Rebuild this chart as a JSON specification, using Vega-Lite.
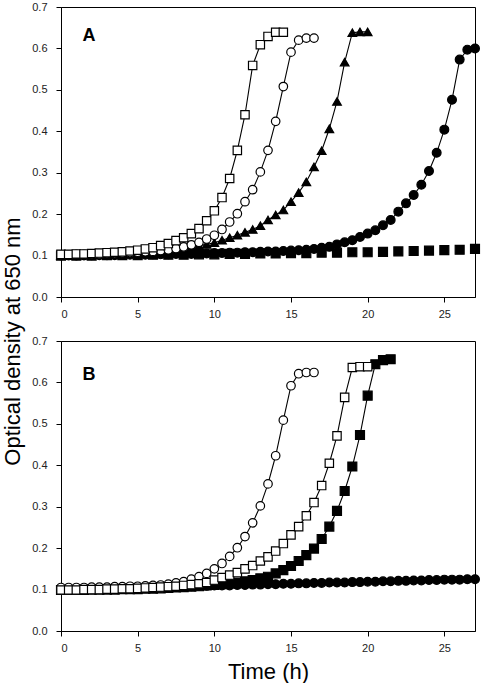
{
  "$schema": "https://vega.github.io/schema/vega-lite/v6.json",
  "padding": {"left": 2, "top": 0, "right": 0, "bottom": 0},
  "bounds": "flush",
  "spacing": 44,
  "title": {"text": "Optical density at 650 nm", "orient": "left", "anchor": "middle", "fontSize": 22, "fontWeight": "normal", "font": "Liberation Sans", "color": "black", "offset": 6},
  "datasets": {
    "growth": [
      {"panel":"A","series":"filled square","time":0,"od":0.100},{"panel":"A","series":"filled square","time":1,"od":0.100},{"panel":"A","series":"filled square","time":2,"od":0.100},{"panel":"A","series":"filled square","time":3,"od":0.101},{"panel":"A","series":"filled square","time":4,"od":0.101},{"panel":"A","series":"filled square","time":5,"od":0.101},{"panel":"A","series":"filled square","time":6,"od":0.102},{"panel":"A","series":"filled square","time":7,"od":0.102},{"panel":"A","series":"filled square","time":8,"od":0.102},{"panel":"A","series":"filled square","time":9,"od":0.103},{"panel":"A","series":"filled square","time":10,"od":0.103},{"panel":"A","series":"filled square","time":11,"od":0.104},{"panel":"A","series":"filled square","time":12,"od":0.104},{"panel":"A","series":"filled square","time":13,"od":0.105},{"panel":"A","series":"filled square","time":14,"od":0.105},{"panel":"A","series":"filled square","time":15,"od":0.106},{"panel":"A","series":"filled square","time":16,"od":0.106},{"panel":"A","series":"filled square","time":17,"od":0.107},{"panel":"A","series":"filled square","time":18,"od":0.107},{"panel":"A","series":"filled square","time":19,"od":0.108},{"panel":"A","series":"filled square","time":20,"od":0.108},{"panel":"A","series":"filled square","time":21,"od":0.109},{"panel":"A","series":"filled square","time":22,"od":0.110},{"panel":"A","series":"filled square","time":23,"od":0.111},{"panel":"A","series":"filled square","time":24,"od":0.112},{"panel":"A","series":"filled square","time":25,"od":0.113},{"panel":"A","series":"filled square","time":26,"od":0.114},{"panel":"A","series":"filled square","time":27,"od":0.116},

      {"panel":"A","series":"filled circle","time":0,"od":0.100},{"panel":"A","series":"filled circle","time":0.5,"od":0.100},{"panel":"A","series":"filled circle","time":1,"od":0.100},{"panel":"A","series":"filled circle","time":1.5,"od":0.100},{"panel":"A","series":"filled circle","time":2,"od":0.101},{"panel":"A","series":"filled circle","time":2.5,"od":0.101},{"panel":"A","series":"filled circle","time":3,"od":0.101},{"panel":"A","series":"filled circle","time":3.5,"od":0.101},{"panel":"A","series":"filled circle","time":4,"od":0.102},{"panel":"A","series":"filled circle","time":4.5,"od":0.102},{"panel":"A","series":"filled circle","time":5,"od":0.102},{"panel":"A","series":"filled circle","time":5.5,"od":0.102},{"panel":"A","series":"filled circle","time":6,"od":0.103},{"panel":"A","series":"filled circle","time":6.5,"od":0.103},{"panel":"A","series":"filled circle","time":7,"od":0.103},{"panel":"A","series":"filled circle","time":7.5,"od":0.104},{"panel":"A","series":"filled circle","time":8,"od":0.104},{"panel":"A","series":"filled circle","time":8.5,"od":0.104},{"panel":"A","series":"filled circle","time":9,"od":0.105},{"panel":"A","series":"filled circle","time":9.5,"od":0.105},{"panel":"A","series":"filled circle","time":10,"od":0.106},{"panel":"A","series":"filled circle","time":10.5,"od":0.106},{"panel":"A","series":"filled circle","time":11,"od":0.107},{"panel":"A","series":"filled circle","time":11.5,"od":0.107},{"panel":"A","series":"filled circle","time":12,"od":0.108},{"panel":"A","series":"filled circle","time":12.5,"od":0.108},{"panel":"A","series":"filled circle","time":13,"od":0.109},{"panel":"A","series":"filled circle","time":13.5,"od":0.110},{"panel":"A","series":"filled circle","time":14,"od":0.110},{"panel":"A","series":"filled circle","time":14.5,"od":0.111},{"panel":"A","series":"filled circle","time":15,"od":0.112},{"panel":"A","series":"filled circle","time":15.5,"od":0.113},{"panel":"A","series":"filled circle","time":16,"od":0.114},{"panel":"A","series":"filled circle","time":16.5,"od":0.116},{"panel":"A","series":"filled circle","time":17,"od":0.119},{"panel":"A","series":"filled circle","time":17.5,"od":0.121},{"panel":"A","series":"filled circle","time":18,"od":0.127},{"panel":"A","series":"filled circle","time":18.5,"od":0.132},{"panel":"A","series":"filled circle","time":19,"od":0.137},{"panel":"A","series":"filled circle","time":19.5,"od":0.145},{"panel":"A","series":"filled circle","time":20,"od":0.153},{"panel":"A","series":"filled circle","time":20.5,"od":0.161},{"panel":"A","series":"filled circle","time":21,"od":0.173},{"panel":"A","series":"filled circle","time":21.5,"od":0.186},{"panel":"A","series":"filled circle","time":22,"od":0.206},{"panel":"A","series":"filled circle","time":22.5,"od":0.226},{"panel":"A","series":"filled circle","time":23,"od":0.246},{"panel":"A","series":"filled circle","time":23.5,"od":0.271},{"panel":"A","series":"filled circle","time":24,"od":0.304},{"panel":"A","series":"filled circle","time":24.5,"od":0.348},{"panel":"A","series":"filled circle","time":25,"od":0.404},{"panel":"A","series":"filled circle","time":25.5,"od":0.476},{"panel":"A","series":"filled circle","time":26,"od":0.573},{"panel":"A","series":"filled circle","time":26.5,"od":0.597},{"panel":"A","series":"filled circle","time":27,"od":0.600},

      {"panel":"A","series":"filled triangle","time":0,"od":0.100},{"panel":"A","series":"filled triangle","time":0.5,"od":0.100},{"panel":"A","series":"filled triangle","time":1,"od":0.101},{"panel":"A","series":"filled triangle","time":1.5,"od":0.101},{"panel":"A","series":"filled triangle","time":2,"od":0.102},{"panel":"A","series":"filled triangle","time":2.5,"od":0.102},{"panel":"A","series":"filled triangle","time":3,"od":0.103},{"panel":"A","series":"filled triangle","time":3.5,"od":0.103},{"panel":"A","series":"filled triangle","time":4,"od":0.104},{"panel":"A","series":"filled triangle","time":4.5,"od":0.105},{"panel":"A","series":"filled triangle","time":5,"od":0.106},{"panel":"A","series":"filled triangle","time":5.5,"od":0.107},{"panel":"A","series":"filled triangle","time":6,"od":0.108},{"panel":"A","series":"filled triangle","time":6.5,"od":0.110},{"panel":"A","series":"filled triangle","time":7,"od":0.112},{"panel":"A","series":"filled triangle","time":7.5,"od":0.114},{"panel":"A","series":"filled triangle","time":8,"od":0.117},{"panel":"A","series":"filled triangle","time":8.5,"od":0.120},{"panel":"A","series":"filled triangle","time":9,"od":0.124},{"panel":"A","series":"filled triangle","time":9.5,"od":0.127},{"panel":"A","series":"filled triangle","time":10,"od":0.131},{"panel":"A","series":"filled triangle","time":10.5,"od":0.137},{"panel":"A","series":"filled triangle","time":11,"od":0.143},{"panel":"A","series":"filled triangle","time":11.5,"od":0.149},{"panel":"A","series":"filled triangle","time":12,"od":0.156},{"panel":"A","series":"filled triangle","time":12.5,"od":0.163},{"panel":"A","series":"filled triangle","time":13,"od":0.172},{"panel":"A","series":"filled triangle","time":13.5,"od":0.186},{"panel":"A","series":"filled triangle","time":14,"od":0.198},{"panel":"A","series":"filled triangle","time":14.5,"od":0.210},{"panel":"A","series":"filled triangle","time":15,"od":0.230},{"panel":"A","series":"filled triangle","time":15.5,"od":0.252},{"panel":"A","series":"filled triangle","time":16,"od":0.278},{"panel":"A","series":"filled triangle","time":16.5,"od":0.314},{"panel":"A","series":"filled triangle","time":17,"od":0.353},{"panel":"A","series":"filled triangle","time":17.5,"od":0.406},{"panel":"A","series":"filled triangle","time":18,"od":0.472},{"panel":"A","series":"filled triangle","time":18.5,"od":0.567},{"panel":"A","series":"filled triangle","time":19,"od":0.638},{"panel":"A","series":"filled triangle","time":19.5,"od":0.640},{"panel":"A","series":"filled triangle","time":20,"od":0.640},

      {"panel":"A","series":"open circle","time":0,"od":0.102},{"panel":"A","series":"open circle","time":0.5,"od":0.102},{"panel":"A","series":"open circle","time":1,"od":0.103},{"panel":"A","series":"open circle","time":1.5,"od":0.103},{"panel":"A","series":"open circle","time":2,"od":0.104},{"panel":"A","series":"open circle","time":2.5,"od":0.104},{"panel":"A","series":"open circle","time":3,"od":0.105},{"panel":"A","series":"open circle","time":3.5,"od":0.105},{"panel":"A","series":"open circle","time":4,"od":0.106},{"panel":"A","series":"open circle","time":4.5,"od":0.107},{"panel":"A","series":"open circle","time":5,"od":0.108},{"panel":"A","series":"open circle","time":5.5,"od":0.109},{"panel":"A","series":"open circle","time":6,"od":0.110},{"panel":"A","series":"open circle","time":6.5,"od":0.112},{"panel":"A","series":"open circle","time":7,"od":0.114},{"panel":"A","series":"open circle","time":7.5,"od":0.117},{"panel":"A","series":"open circle","time":8,"od":0.121},{"panel":"A","series":"open circle","time":8.5,"od":0.126},{"panel":"A","series":"open circle","time":9,"od":0.132},{"panel":"A","series":"open circle","time":9.5,"od":0.140},{"panel":"A","series":"open circle","time":10,"od":0.149},{"panel":"A","series":"open circle","time":10.5,"od":0.163},{"panel":"A","series":"open circle","time":11,"od":0.181},{"panel":"A","series":"open circle","time":11.5,"od":0.201},{"panel":"A","series":"open circle","time":12,"od":0.230},{"panel":"A","series":"open circle","time":12.5,"od":0.259},{"panel":"A","series":"open circle","time":13,"od":0.302},{"panel":"A","series":"open circle","time":13.5,"od":0.354},{"panel":"A","series":"open circle","time":14,"od":0.424},{"panel":"A","series":"open circle","time":14.5,"od":0.508},{"panel":"A","series":"open circle","time":15,"od":0.591},{"panel":"A","series":"open circle","time":15.5,"od":0.620},{"panel":"A","series":"open circle","time":16,"od":0.625},{"panel":"A","series":"open circle","time":16.5,"od":0.625},

      {"panel":"A","series":"open square","time":0,"od":0.103},{"panel":"A","series":"open square","time":0.5,"od":0.103},{"panel":"A","series":"open square","time":1,"od":0.104},{"panel":"A","series":"open square","time":1.5,"od":0.104},{"panel":"A","series":"open square","time":2,"od":0.105},{"panel":"A","series":"open square","time":2.5,"od":0.106},{"panel":"A","series":"open square","time":3,"od":0.107},{"panel":"A","series":"open square","time":3.5,"od":0.108},{"panel":"A","series":"open square","time":4,"od":0.109},{"panel":"A","series":"open square","time":4.5,"od":0.111},{"panel":"A","series":"open square","time":5,"od":0.113},{"panel":"A","series":"open square","time":5.5,"od":0.116},{"panel":"A","series":"open square","time":6,"od":0.119},{"panel":"A","series":"open square","time":6.5,"od":0.124},{"panel":"A","series":"open square","time":7,"od":0.129},{"panel":"A","series":"open square","time":7.5,"od":0.136},{"panel":"A","series":"open square","time":8,"od":0.143},{"panel":"A","series":"open square","time":8.5,"od":0.153},{"panel":"A","series":"open square","time":9,"od":0.165},{"panel":"A","series":"open square","time":9.5,"od":0.184},{"panel":"A","series":"open square","time":10,"od":0.208},{"panel":"A","series":"open square","time":10.5,"od":0.240},{"panel":"A","series":"open square","time":11,"od":0.286},{"panel":"A","series":"open square","time":11.5,"od":0.354},{"panel":"A","series":"open square","time":12,"od":0.440},{"panel":"A","series":"open square","time":12.5,"od":0.559},{"panel":"A","series":"open square","time":13,"od":0.609},{"panel":"A","series":"open square","time":13.5,"od":0.629},{"panel":"A","series":"open square","time":14,"od":0.639},{"panel":"A","series":"open square","time":14.5,"od":0.639},

      {"panel":"B","series":"filled circle","time":0,"od":0.100},{"panel":"B","series":"filled circle","time":0.5,"od":0.100},{"panel":"B","series":"filled circle","time":1,"od":0.101},{"panel":"B","series":"filled circle","time":1.5,"od":0.101},{"panel":"B","series":"filled circle","time":2,"od":0.102},{"panel":"B","series":"filled circle","time":2.5,"od":0.102},{"panel":"B","series":"filled circle","time":3,"od":0.103},{"panel":"B","series":"filled circle","time":3.5,"od":0.103},{"panel":"B","series":"filled circle","time":4,"od":0.104},{"panel":"B","series":"filled circle","time":4.5,"od":0.104},{"panel":"B","series":"filled circle","time":5,"od":0.105},{"panel":"B","series":"filled circle","time":5.5,"od":0.105},{"panel":"B","series":"filled circle","time":6,"od":0.106},{"panel":"B","series":"filled circle","time":6.5,"od":0.106},{"panel":"B","series":"filled circle","time":7,"od":0.107},{"panel":"B","series":"filled circle","time":7.5,"od":0.107},{"panel":"B","series":"filled circle","time":8,"od":0.108},{"panel":"B","series":"filled circle","time":8.5,"od":0.108},{"panel":"B","series":"filled circle","time":9,"od":0.109},{"panel":"B","series":"filled circle","time":9.5,"od":0.109},{"panel":"B","series":"filled circle","time":10,"od":0.110},{"panel":"B","series":"filled circle","time":10.5,"od":0.110},{"panel":"B","series":"filled circle","time":11,"od":0.110},{"panel":"B","series":"filled circle","time":11.5,"od":0.111},{"panel":"B","series":"filled circle","time":12,"od":0.111},{"panel":"B","series":"filled circle","time":12.5,"od":0.112},{"panel":"B","series":"filled circle","time":13,"od":0.112},{"panel":"B","series":"filled circle","time":13.5,"od":0.113},{"panel":"B","series":"filled circle","time":14,"od":0.113},{"panel":"B","series":"filled circle","time":14.5,"od":0.114},{"panel":"B","series":"filled circle","time":15,"od":0.114},{"panel":"B","series":"filled circle","time":15.5,"od":0.115},{"panel":"B","series":"filled circle","time":16,"od":0.115},{"panel":"B","series":"filled circle","time":16.5,"od":0.116},{"panel":"B","series":"filled circle","time":17,"od":0.116},{"panel":"B","series":"filled circle","time":17.5,"od":0.117},{"panel":"B","series":"filled circle","time":18,"od":0.117},{"panel":"B","series":"filled circle","time":18.5,"od":0.117},{"panel":"B","series":"filled circle","time":19,"od":0.118},{"panel":"B","series":"filled circle","time":19.5,"od":0.118},{"panel":"B","series":"filled circle","time":20,"od":0.119},{"panel":"B","series":"filled circle","time":20.5,"od":0.119},{"panel":"B","series":"filled circle","time":21,"od":0.120},{"panel":"B","series":"filled circle","time":21.5,"od":0.120},{"panel":"B","series":"filled circle","time":22,"od":0.121},{"panel":"B","series":"filled circle","time":22.5,"od":0.121},{"panel":"B","series":"filled circle","time":23,"od":0.122},{"panel":"B","series":"filled circle","time":23.5,"od":0.122},{"panel":"B","series":"filled circle","time":24,"od":0.123},{"panel":"B","series":"filled circle","time":24.5,"od":0.123},{"panel":"B","series":"filled circle","time":25,"od":0.124},{"panel":"B","series":"filled circle","time":25.5,"od":0.124},{"panel":"B","series":"filled circle","time":26,"od":0.124},{"panel":"B","series":"filled circle","time":26.5,"od":0.125},{"panel":"B","series":"filled circle","time":27,"od":0.125},

      {"panel":"B","series":"filled square","time":0,"od":0.099},{"panel":"B","series":"filled square","time":0.5,"od":0.099},{"panel":"B","series":"filled square","time":1,"od":0.099},{"panel":"B","series":"filled square","time":1.5,"od":0.099},{"panel":"B","series":"filled square","time":2,"od":0.100},{"panel":"B","series":"filled square","time":2.5,"od":0.100},{"panel":"B","series":"filled square","time":3,"od":0.100},{"panel":"B","series":"filled square","time":3.5,"od":0.100},{"panel":"B","series":"filled square","time":4,"od":0.101},{"panel":"B","series":"filled square","time":4.5,"od":0.101},{"panel":"B","series":"filled square","time":5,"od":0.101},{"panel":"B","series":"filled square","time":5.5,"od":0.102},{"panel":"B","series":"filled square","time":6,"od":0.102},{"panel":"B","series":"filled square","time":6.5,"od":0.103},{"panel":"B","series":"filled square","time":7,"od":0.104},{"panel":"B","series":"filled square","time":7.5,"od":0.105},{"panel":"B","series":"filled square","time":8,"od":0.106},{"panel":"B","series":"filled square","time":8.5,"od":0.107},{"panel":"B","series":"filled square","time":9,"od":0.108},{"panel":"B","series":"filled square","time":9.5,"od":0.110},{"panel":"B","series":"filled square","time":10,"od":0.111},{"panel":"B","series":"filled square","time":10.5,"od":0.113},{"panel":"B","series":"filled square","time":11,"od":0.115},{"panel":"B","series":"filled square","time":11.5,"od":0.117},{"panel":"B","series":"filled square","time":12,"od":0.120},{"panel":"B","series":"filled square","time":12.5,"od":0.123},{"panel":"B","series":"filled square","time":13,"od":0.127},{"panel":"B","series":"filled square","time":13.5,"od":0.131},{"panel":"B","series":"filled square","time":14,"od":0.139},{"panel":"B","series":"filled square","time":14.5,"od":0.147},{"panel":"B","series":"filled square","time":15,"od":0.157},{"panel":"B","series":"filled square","time":15.5,"od":0.169},{"panel":"B","series":"filled square","time":16,"od":0.183},{"panel":"B","series":"filled square","time":16.5,"od":0.199},{"panel":"B","series":"filled square","time":17,"od":0.222},{"panel":"B","series":"filled square","time":17.5,"od":0.252},{"panel":"B","series":"filled square","time":18,"od":0.290},{"panel":"B","series":"filled square","time":18.5,"od":0.338},{"panel":"B","series":"filled square","time":19,"od":0.397},{"panel":"B","series":"filled square","time":19.5,"od":0.473},{"panel":"B","series":"filled square","time":20,"od":0.568},{"panel":"B","series":"filled square","time":20.5,"od":0.644},{"panel":"B","series":"filled square","time":21,"od":0.654},{"panel":"B","series":"filled square","time":21.5,"od":0.656},

      {"panel":"B","series":"open circle","time":0,"od":0.105},{"panel":"B","series":"open circle","time":0.5,"od":0.105},{"panel":"B","series":"open circle","time":1,"od":0.105},{"panel":"B","series":"open circle","time":1.5,"od":0.105},{"panel":"B","series":"open circle","time":2,"od":0.106},{"panel":"B","series":"open circle","time":2.5,"od":0.106},{"panel":"B","series":"open circle","time":3,"od":0.106},{"panel":"B","series":"open circle","time":3.5,"od":0.107},{"panel":"B","series":"open circle","time":4,"od":0.107},{"panel":"B","series":"open circle","time":4.5,"od":0.108},{"panel":"B","series":"open circle","time":5,"od":0.108},{"panel":"B","series":"open circle","time":5.5,"od":0.109},{"panel":"B","series":"open circle","time":6,"od":0.110},{"panel":"B","series":"open circle","time":6.5,"od":0.111},{"panel":"B","series":"open circle","time":7,"od":0.113},{"panel":"B","series":"open circle","time":7.5,"od":0.116},{"panel":"B","series":"open circle","time":8,"od":0.119},{"panel":"B","series":"open circle","time":8.5,"od":0.125},{"panel":"B","series":"open circle","time":9,"od":0.131},{"panel":"B","series":"open circle","time":9.5,"od":0.139},{"panel":"B","series":"open circle","time":10,"od":0.150},{"panel":"B","series":"open circle","time":10.5,"od":0.163},{"panel":"B","series":"open circle","time":11,"od":0.180},{"panel":"B","series":"open circle","time":11.5,"od":0.201},{"panel":"B","series":"open circle","time":12,"od":0.228},{"panel":"B","series":"open circle","time":12.5,"od":0.261},{"panel":"B","series":"open circle","time":13,"od":0.302},{"panel":"B","series":"open circle","time":13.5,"od":0.355},{"panel":"B","series":"open circle","time":14,"od":0.423},{"panel":"B","series":"open circle","time":14.5,"od":0.509},{"panel":"B","series":"open circle","time":15,"od":0.592},{"panel":"B","series":"open circle","time":15.5,"od":0.621},{"panel":"B","series":"open circle","time":16,"od":0.624},{"panel":"B","series":"open circle","time":16.5,"od":0.624},

      {"panel":"B","series":"open square","time":0,"od":0.099},{"panel":"B","series":"open square","time":0.5,"od":0.099},{"panel":"B","series":"open square","time":1,"od":0.099},{"panel":"B","series":"open square","time":1.5,"od":0.100},{"panel":"B","series":"open square","time":2,"od":0.100},{"panel":"B","series":"open square","time":2.5,"od":0.100},{"panel":"B","series":"open square","time":3,"od":0.101},{"panel":"B","series":"open square","time":3.5,"od":0.101},{"panel":"B","series":"open square","time":4,"od":0.102},{"panel":"B","series":"open square","time":4.5,"od":0.102},{"panel":"B","series":"open square","time":5,"od":0.103},{"panel":"B","series":"open square","time":5.5,"od":0.104},{"panel":"B","series":"open square","time":6,"od":0.105},{"panel":"B","series":"open square","time":6.5,"od":0.106},{"panel":"B","series":"open square","time":7,"od":0.107},{"panel":"B","series":"open square","time":7.5,"od":0.108},{"panel":"B","series":"open square","time":8,"od":0.110},{"panel":"B","series":"open square","time":8.5,"od":0.112},{"panel":"B","series":"open square","time":9,"od":0.114},{"panel":"B","series":"open square","time":9.5,"od":0.117},{"panel":"B","series":"open square","time":10,"od":0.123},{"panel":"B","series":"open square","time":10.5,"od":0.129},{"panel":"B","series":"open square","time":11,"od":0.135},{"panel":"B","series":"open square","time":11.5,"od":0.141},{"panel":"B","series":"open square","time":12,"od":0.150},{"panel":"B","series":"open square","time":12.5,"od":0.158},{"panel":"B","series":"open square","time":13,"od":0.169},{"panel":"B","series":"open square","time":13.5,"od":0.179},{"panel":"B","series":"open square","time":14,"od":0.193},{"panel":"B","series":"open square","time":14.5,"od":0.211},{"panel":"B","series":"open square","time":15,"od":0.232},{"panel":"B","series":"open square","time":15.5,"od":0.252},{"panel":"B","series":"open square","time":16,"od":0.278},{"panel":"B","series":"open square","time":16.5,"od":0.310},{"panel":"B","series":"open square","time":17,"od":0.351},{"panel":"B","series":"open square","time":17.5,"od":0.405},{"panel":"B","series":"open square","time":18,"od":0.471},{"panel":"B","series":"open square","time":18.5,"od":0.564},{"panel":"B","series":"open square","time":19,"od":0.636},{"panel":"B","series":"open square","time":19.5,"od":0.638},{"panel":"B","series":"open square","time":20,"od":0.638}
    ],
    "labels": [
      {"panel":"A","label":"A"},
      {"panel":"B","label":"B"}
    ]
  },
  "vconcat": [
    {
      "width": 414,
      "height": 290,
      "layer": [
        {
          "data": {"name": "growth"},
          "transform": [{"filter": "datum.panel === 'A' && datum.series !== 'filled square'"}],
          "mark": {"type": "line", "stroke": "black", "strokeWidth": 1.1},
          "encoding": {
            "x": {"field": "time", "type": "quantitative", "scale": {"domain": [0, 27], "nice": false}, "axis": {"values": [0, 5, 10, 15, 20, 25], "title": null, "labelPadding": 6}},
            "y": {"field": "od", "type": "quantitative", "scale": {"domain": [0, 0.7], "nice": false}, "axis": {"values": [0, 0.1, 0.2, 0.3, 0.4, 0.5, 0.6, 0.7], "format": ".1f", "title": null, "labelPadding": 9}},
            "detail": {"field": "series"}
          }
        },
        {
          "data": {"name": "growth"},
          "transform": [{"filter": "datum.panel === 'A'"}],
          "mark": {"type": "point", "filled": false, "stroke": "black", "strokeWidth": 1.2, "opacity": 1},
          "encoding": {
            "x": {"field": "time", "type": "quantitative"},
            "y": {"field": "od", "type": "quantitative"},
            "shape": {"field": "series", "type": "nominal", "scale": {"domain": ["open square", "open circle", "filled triangle", "filled circle", "filled square"], "range": ["square", "circle", "triangle-up", "circle", "square"]}, "legend": null},
            "fill": {"field": "series", "type": "nominal", "scale": {"domain": ["open square", "open circle", "filled triangle", "filled circle", "filled square"], "range": ["white", "white", "black", "black", "black"]}, "legend": null},
            "size": {"field": "series", "type": "nominal", "scale": {"domain": ["open square", "open circle", "filled triangle", "filled circle", "filled square"], "range": [70, 80, 95, 85, 60]}, "legend": null}
          }
        },
        {
          "data": {"name": "labels"},
          "transform": [{"filter": "datum.panel === 'A'"}],
          "mark": {"type": "text", "align": "left", "baseline": "middle", "fontSize": 18, "fontWeight": "bold", "font": "Liberation Sans", "color": "black"},
          "encoding": {
            "x": {"datum": 1.4},
            "y": {"datum": 0.63},
            "text": {"field": "label"}
          }
        }
      ]
    },
    {
      "width": 414,
      "height": 290,
      "layer": [
        {
          "data": {"name": "growth"},
          "transform": [{"filter": "datum.panel === 'B'"}],
          "mark": {"type": "line", "stroke": "black", "strokeWidth": 1.1},
          "encoding": {
            "x": {"field": "time", "type": "quantitative", "scale": {"domain": [0, 27], "nice": false}, "axis": {"values": [0, 5, 10, 15, 20, 25], "title": "Time (h)", "labelPadding": 6, "titlePadding": 8}},
            "y": {"field": "od", "type": "quantitative", "scale": {"domain": [0, 0.7], "nice": false}, "axis": {"values": [0, 0.1, 0.2, 0.3, 0.4, 0.5, 0.6, 0.7], "format": ".1f", "title": null, "labelPadding": 9}},
            "detail": {"field": "series"}
          }
        },
        {
          "data": {"name": "growth"},
          "transform": [{"filter": "datum.panel === 'B'"}],
          "mark": {"type": "point", "filled": false, "stroke": "black", "strokeWidth": 1.2, "opacity": 1},
          "encoding": {
            "x": {"field": "time", "type": "quantitative"},
            "y": {"field": "od", "type": "quantitative"},
            "shape": {"field": "series", "type": "nominal", "scale": {"domain": ["open square", "open circle", "filled triangle", "filled circle", "filled square"], "range": ["square", "circle", "triangle-up", "circle", "square"]}, "legend": null},
            "fill": {"field": "series", "type": "nominal", "scale": {"domain": ["open square", "open circle", "filled triangle", "filled circle", "filled square"], "range": ["white", "white", "black", "black", "black"]}, "legend": null},
            "size": {"field": "series", "type": "nominal", "scale": {"domain": ["open square", "open circle", "filled triangle", "filled circle", "filled square"], "range": [70, 80, 95, 85, 70]}, "legend": null}
          }
        },
        {
          "data": {"name": "labels"},
          "transform": [{"filter": "datum.panel === 'B'"}],
          "mark": {"type": "text", "align": "left", "baseline": "middle", "fontSize": 18, "fontWeight": "bold", "font": "Liberation Sans", "color": "black"},
          "encoding": {
            "x": {"datum": 1.4},
            "y": {"datum": 0.617},
            "text": {"field": "label"}
          }
        }
      ]
    }
  ],
  "config": {
    "font": "Liberation Sans",
    "view": {"stroke": "black", "strokeWidth": 1},
    "axis": {"grid": false, "domainColor": "black", "domainWidth": 1, "tickColor": "black", "tickSize": 5, "labelColor": "#222", "labelFont": "Liberation Sans", "labelFontSize": 11, "titleFont": "Liberation Sans", "titleFontSize": 22, "titleFontWeight": "normal", "titleColor": "black"}
  }
}
